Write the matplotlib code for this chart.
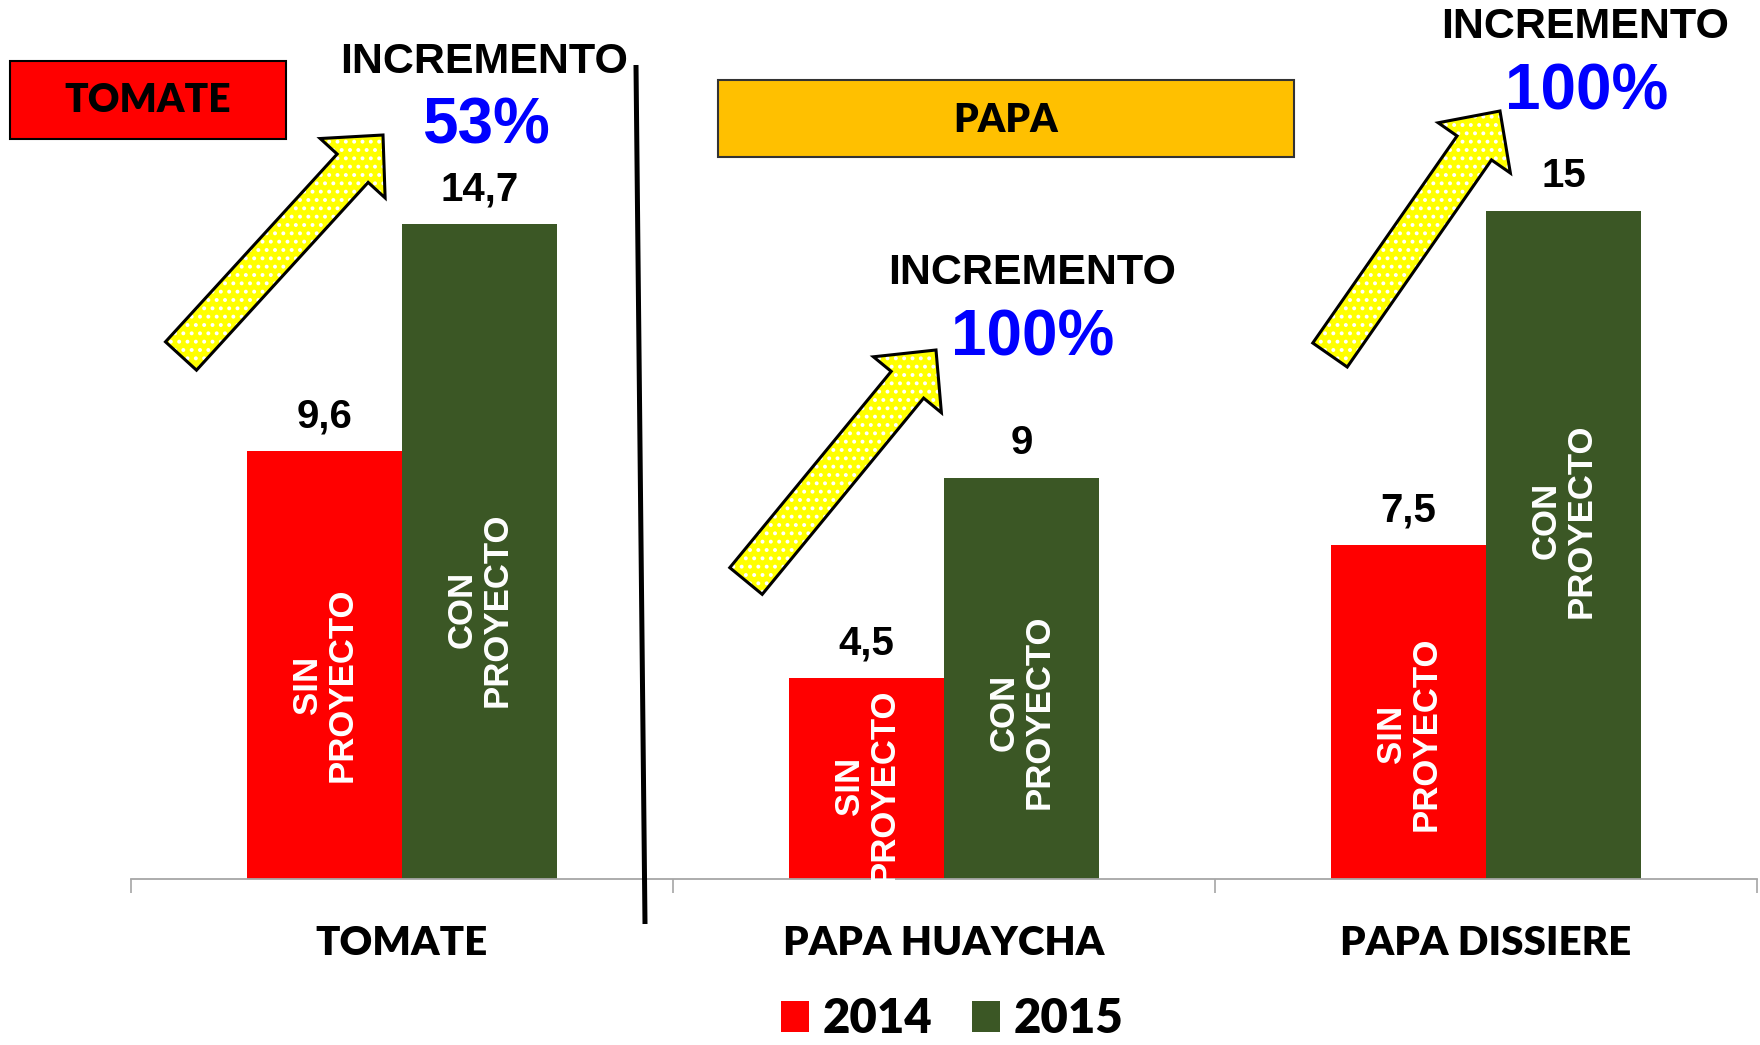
import matplotlib.pyplot as plt
from matplotlib.patches import Rectangle, FancyArrow
import numpy as np

# data
categories = ["TOMATE", "PAPA HUAYCHA", "PAPA DISSIERE"]
years = ["2014", "2015"]
values_2014 = [9.6, 4.5, 7.5]
values_2015 = [14.7, 9, 15]
inner_2014 = "SIN\nPROYECTO"
inner_2015 = "CON\nPROYECTO"
# where the rotated labels sit inside the bars (data units)
inner_y_2014 = [4.35, 2.1, 3.25]
inner_y_2015 = [6.05, 3.75, 8.05]

RED = "#FF0000"
GREEN = "#3B5725"
ARIAL = "Liberation Sans"
CALIBRI = "Lato"
HEAVY = "heavy"

W, H = 1760, 1045
fig = plt.figure(figsize=(W / 100, H / 100), dpi=100)

# main axes: baseline at y=879px, 44.56 px per unit
ax = fig.add_axes([131 / W, 1 - 879 / H, 1626 / W, 19 * 44.56 / H])
x = np.arange(len(categories))
bw = 0.286
b1 = ax.bar(x - bw / 2, values_2014, bw, color=RED, label=years[0])
b2 = ax.bar(x + bw / 2, values_2015, bw, color=GREEN, label=years[1])
ax.set_xlim(-0.5, 2.5)
ax.set_ylim(0, 19)

def fmt(v):
    return f"{v:g}".replace(".", ",")

for bars, vals, txt, ys in [(b1, values_2014, inner_2014, inner_y_2014),
                            (b2, values_2015, inner_2015, inner_y_2015)]:
    for rect, v, yy in zip(bars, vals, ys):
        cx = rect.get_x() + rect.get_width() / 2
        ax.annotate(fmt(v), (cx, v), xytext=(0, 25), textcoords="offset points",
                    ha="center", va="center", fontsize=29, fontweight="bold",
                    family=ARIAL)
        ax.text(cx, yy, txt, rotation=90, ha="center", va="center",
                multialignment="center", color="white", fontsize=25,
                fontweight="bold", family=ARIAL, linespacing=1.05)

for s in ["top", "left", "right"]:
    ax.spines[s].set_visible(False)
ax.spines["bottom"].set_color("#A6A6A6")
ax.spines["bottom"].set_linewidth(1.3)
ax.set_yticks([])
ax.set_xticks(x)
ax.set_xticklabels(categories, fontsize=29, fontweight=HEAVY, family=CALIBRI)
ax.tick_params(axis="x", which="major", length=0, pad=33)
ax.set_xticks([-0.5, 0.5, 1.5, 2.5], minor=True)
ax.tick_params(axis="x", which="minor", length=10, width=1.2, color="#A6A6A6")

fig.legend(handles=[b1, b2], loc="center", bbox_to_anchor=(952 / W, 1 - 1019 / H),
           ncol=2, frameon=False, handlelength=0.6, handleheight=0.62,
           handletextpad=0.28, columnspacing=0.85, borderpad=0.1,
           prop={"family": CALIBRI, "weight": HEAVY, "size": 34})

# overlay in pixel coordinates for the decorations
ov = fig.add_axes([0, 0, 1, 1], zorder=3)
ov.set_xlim(0, W)
ov.set_ylim(H, 0)
ov.axis("off")
ov.patch.set_alpha(0)

# divider line
ov.plot([636, 645], [65, 924], color="black", lw=3.6, solid_capstyle="butt")

# group boxes
ov.add_patch(Rectangle((10, 61), 276, 78, fc=RED, ec="black", lw=1.5))
ov.text(148, 101, "TOMATE", ha="center", va="center", fontsize=28,
        fontweight=HEAVY, family=CALIBRI)
ov.add_patch(Rectangle((718, 80), 576, 77, fc="#FFC000", ec="#333333", lw=1.5))
ov.text(1006, 120, "PAPA", ha="center", va="center", fontsize=28,
        fontweight=HEAVY, family=CALIBRI)

# increment arrows and labels
arrows = [((181, 356), (383, 135)), ((746, 581), (936, 350)), ((1330, 355), (1500, 111))]
inc_pos = [(484, 62), (1032, 273), (1585, 27)]
pct_pos = [(486, 126), (1033, 338), (1587, 92)]
plt.rcParams["hatch.linewidth"] = 1.6
for (p0, p1), ip, pp, a, b in zip(arrows, inc_pos, pct_pos, values_2014, values_2015):
    dx, dy = p1[0] - p0[0], p1[1] - p0[1]
    kw = dict(width=42, head_width=88, head_length=45, length_includes_head=True)
    ov.add_patch(FancyArrow(p0[0], p0[1], dx, dy, fc="#FFFF00", ec="white",
                            lw=0, hatch="..", **kw))
    ov.add_patch(FancyArrow(p0[0], p0[1], dx, dy, fill=False, ec="black",
                            lw=2.2, joinstyle="miter", **kw))
    ov.text(ip[0], ip[1], "INCREMENTO", ha="center", va="center", fontsize=31,
            fontweight="bold", family=ARIAL)
    pct = round((b / a - 1) * 100)
    ov.text(pp[0], pp[1], f"{pct}%", ha="center", va="center", fontsize=46,
            fontweight="bold", family=ARIAL, color="#0000FF")

fig.savefig("out.png", dpi=100)
